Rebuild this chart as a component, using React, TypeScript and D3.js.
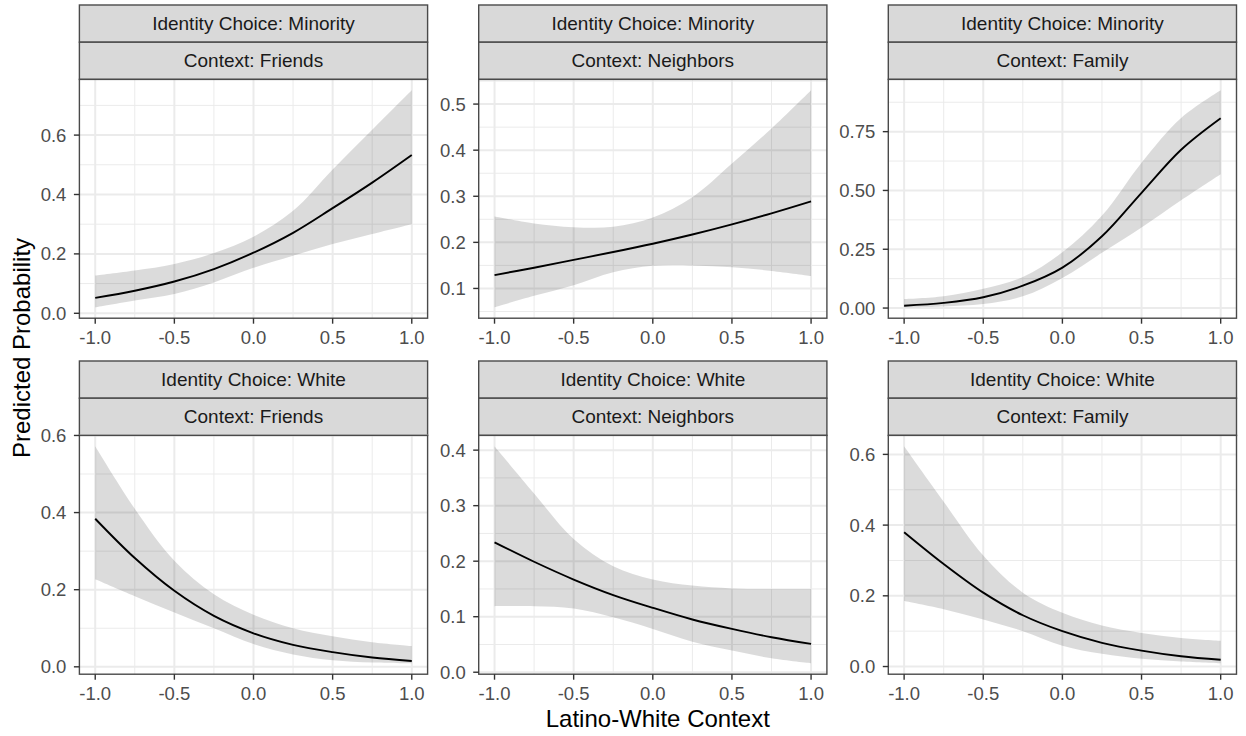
import React from 'react';
import * as d3 from 'd3';

// values read at x = -1, -0.75, ..., 1
const xValues = [-1, -0.75, -0.5, -0.25, 0, 0.25, 0.5, 0.75, 1];
const xTicks = [-1, -0.5, 0, 0.5, 1];
const identityChoices = ['Minority', 'White'];
const contexts = ['Friends', 'Neighbors', 'Family'];

const minorityFriendsFit = [0.052, 0.076, 0.107, 0.149, 0.204, 0.271, 0.354, 0.44, 0.533];
const minorityFriendsLower = [0.02, 0.043, 0.065, 0.104, 0.153, 0.194, 0.233, 0.267, 0.3];
const minorityFriendsUpper = [0.127, 0.144, 0.166, 0.203, 0.258, 0.345, 0.484, 0.618, 0.751];

const minorityNeighborsFit = [0.129, 0.145, 0.162, 0.179, 0.197, 0.217, 0.239, 0.263, 0.289];
const minorityNeighborsLower = [0.059, 0.084, 0.107, 0.135, 0.149, 0.15, 0.146, 0.138, 0.127];
const minorityNeighborsUpper = [0.256, 0.241, 0.233, 0.234, 0.254, 0.298, 0.371, 0.447, 0.53];

const minorityFamilyFit = [0.01, 0.022, 0.046, 0.095, 0.172, 0.305, 0.49, 0.673, 0.807];
const minorityFamilyLower = [0.003, 0.007, 0.017, 0.05, 0.128, 0.235, 0.342, 0.458, 0.569];
const minorityFamilyUpper = [0.038, 0.05, 0.082, 0.132, 0.237, 0.393, 0.618, 0.808, 0.926];

const whiteFriendsFit = [0.384, 0.282, 0.197, 0.132, 0.087, 0.057, 0.038, 0.024, 0.015];
const whiteFriendsLower = [0.227, 0.183, 0.141, 0.1, 0.059, 0.032, 0.017, 0.011, 0.009];
const whiteFriendsUpper = [0.572, 0.41, 0.275, 0.188, 0.135, 0.1, 0.079, 0.064, 0.054];

const whiteNeighborsFit = [0.234, 0.199, 0.167, 0.139, 0.116, 0.095, 0.078, 0.063, 0.051];
const whiteNeighborsLower = [0.119, 0.119, 0.115, 0.099, 0.078, 0.055, 0.039, 0.025, 0.016];
const whiteNeighborsUpper = [0.407, 0.322, 0.24, 0.191, 0.167, 0.156, 0.151, 0.15, 0.15];

const whiteFamilyFit = [0.38, 0.29, 0.209, 0.145, 0.1, 0.067, 0.045, 0.029, 0.019];
const whiteFamilyLower = [0.185, 0.162, 0.133, 0.1, 0.059, 0.036, 0.022, 0.014, 0.009];
const whiteFamilyUpper = [0.623, 0.466, 0.314, 0.209, 0.152, 0.116, 0.095, 0.081, 0.073];

const minorityFriendsTicks = [0, 0.2, 0.4, 0.6];
const minorityNeighborsTicks = [0.1, 0.2, 0.3, 0.4, 0.5];
const minorityFamilyTicks = [0, 0.25, 0.5, 0.75];
const whiteFriendsTicks = [0, 0.2, 0.4, 0.6];
const whiteNeighborsTicks = [0, 0.1, 0.2, 0.3, 0.4];
const whiteFamilyTicks = [0, 0.2, 0.4, 0.6];

const panels = [
  { row: 0, col: 0, fit: minorityFriendsFit, lower: minorityFriendsLower, upper: minorityFriendsUpper, ticks: minorityFriendsTicks, digits: 1 },
  { row: 0, col: 1, fit: minorityNeighborsFit, lower: minorityNeighborsLower, upper: minorityNeighborsUpper, ticks: minorityNeighborsTicks, digits: 1 },
  { row: 0, col: 2, fit: minorityFamilyFit, lower: minorityFamilyLower, upper: minorityFamilyUpper, ticks: minorityFamilyTicks, digits: 2 },
  { row: 1, col: 0, fit: whiteFriendsFit, lower: whiteFriendsLower, upper: whiteFriendsUpper, ticks: whiteFriendsTicks, digits: 1 },
  { row: 1, col: 1, fit: whiteNeighborsFit, lower: whiteNeighborsLower, upper: whiteNeighborsUpper, ticks: whiteNeighborsTicks, digits: 1 },
  { row: 1, col: 2, fit: whiteFamilyFit, lower: whiteFamilyLower, upper: whiteFamilyUpper, ticks: whiteFamilyTicks, digits: 1 },
];

const W = 1246;
const H = 736;
const colLefts = [79.4, 478.7, 888.3];
const rowTops = [5, 361];
const panelW = 348.2;
const stripH = 37.2;
const panelH = 238.8;
const font = "'Liberation Sans', Arial, Helvetica, sans-serif";

// midpoints between major breaks, like ggplot minor breaks
const minorOf = (ticks: number[], lo: number, hi: number) => {
  const step = ticks[1] - ticks[0];
  const out: number[] = [];
  for (let v = ticks[0] - step / 2; v <= hi + 1e-9; v += step) {
    if (v >= lo - 1e-9) out.push(v);
  }
  return out;
};

const Panel = ({ p }: { p: (typeof panels)[number] }) => {
  const left = colLefts[p.col];
  const top = rowTops[p.row];
  const pTop = top + stripH * 2;
  const pBottom = pTop + panelH;

  const x = d3.scaleLinear().domain([-1.1, 1.1]).range([left, left + panelW]);
  const lo = d3.min(p.lower) as number;
  const hi = d3.max(p.upper) as number;
  const pad = (hi - lo) * 0.05;
  const y = d3.scaleLinear().domain([lo - pad, hi + pad]).range([pBottom, pTop]);
  const [dLo, dHi] = y.domain();

  const rows = xValues.map((v, i) => ({ x: v, fit: p.fit[i], lower: p.lower[i], upper: p.upper[i] }));
  const area = d3
    .area<any>()
    .x((d) => x(d.x))
    .y0((d) => y(d.lower))
    .y1((d) => y(d.upper))
    .curve(d3.curveCatmullRom.alpha(0.5));
  const line = d3
    .line<any>()
    .x((d) => x(d.x))
    .y((d) => y(d.fit))
    .curve(d3.curveCatmullRom.alpha(0.5));

  const xMinor = minorOf(xTicks, -1.1, 1.1);
  const yMinor = minorOf(p.ticks, dLo, dHi);
  const fmt = d3.format(`.${p.digits}f`);
  const stripLabels = [`Identity Choice: ${identityChoices[p.row]}`, `Context: ${contexts[p.col]}`];

  return (
    <g>
      {stripLabels.map((s, i) => (
        <g key={s}>
          <rect x={left} y={top + i * stripH} width={panelW} height={stripH} fill="#d9d9d9" stroke="#4a4a4a" strokeWidth={1.4} />
          <text
            x={left + panelW / 2}
            y={top + i * stripH + stripH / 2 + 6.6}
            textAnchor="middle"
            fontSize={19}
            fill="#1a1a1a"
            fontFamily={font}
          >
            {s}
          </text>
        </g>
      ))}
      <rect x={left} y={pTop} width={panelW} height={panelH} fill="#fff" />
      {yMinor.map((v) => (
        <line key={'ym' + v} x1={left} x2={left + panelW} y1={y(v)} y2={y(v)} stroke="#ebebeb" strokeWidth={1} />
      ))}
      {xMinor.map((v) => (
        <line key={'xm' + v} x1={x(v)} x2={x(v)} y1={pTop} y2={pBottom} stroke="#ebebeb" strokeWidth={1} />
      ))}
      {p.ticks.map((v) => (
        <line key={'yM' + v} x1={left} x2={left + panelW} y1={y(v)} y2={y(v)} stroke="#ebebeb" strokeWidth={2} />
      ))}
      {xTicks.map((v) => (
        <line key={'xM' + v} x1={x(v)} x2={x(v)} y1={pTop} y2={pBottom} stroke="#ebebeb" strokeWidth={2} />
      ))}
      <path d={area(rows) as string} fill="#000" fillOpacity={0.14} />
      <path d={line(rows) as string} fill="none" stroke="#000" strokeWidth={1.9} />
      <rect x={left} y={pTop} width={panelW} height={panelH} fill="none" stroke="#4a4a4a" strokeWidth={1.4} />
      {p.ticks.map((v) => (
        <g key={'yt' + v}>
          <line x1={left - 5.5} x2={left} y1={y(v)} y2={y(v)} stroke="#333" strokeWidth={1.4} />
          <text x={left - 13} y={y(v) + 6.5} textAnchor="end" fontSize={18.5} fill="#4d4d4d" fontFamily={font}>
            {fmt(v)}
          </text>
        </g>
      ))}
      {xTicks.map((v) => (
        <g key={'xt' + v}>
          <line x1={x(v)} x2={x(v)} y1={pBottom} y2={pBottom + 5.5} stroke="#333" strokeWidth={1.4} />
          <text x={x(v)} y={pBottom + 25.8} textAnchor="middle" fontSize={18.5} fill="#4d4d4d" fontFamily={font}>
            {v.toFixed(1)}
          </text>
        </g>
      ))}
    </g>
  );
};

const App = () => {
  return (
    <svg
      width={W}
      height={H}
      style={{ position: 'absolute', left: 0, top: 0, display: 'block', background: '#fff' }}
    >
      <rect width={W} height={H} fill="#fff" />
      {panels.map((p) => (
        <Panel key={`${p.row}-${p.col}`} p={p} />
      ))}
      <text x={657.8} y={727} textAnchor="middle" fontSize={24} fill="#000" fontFamily={font}>
        Latino-White Context
      </text>
      <text
        transform="translate(30,348) rotate(-90)"
        textAnchor="middle"
        fontSize={24}
        fill="#000"
        fontFamily={font}
      >
        Predicted Probability
      </text>
    </svg>
  );
};

export default App;
